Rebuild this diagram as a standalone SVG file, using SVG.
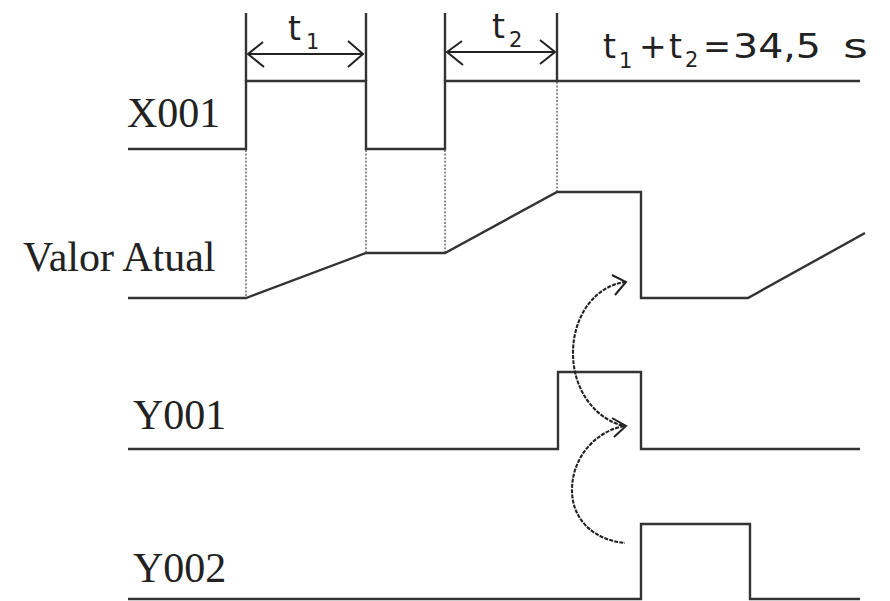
<svg xmlns="http://www.w3.org/2000/svg" width="890" height="601" viewBox="0 0 890 601">
<style>
.sig{fill:none;stroke:#333;stroke-width:2.4;stroke-linejoin:miter}
.dot{fill:none;stroke:#444;stroke-width:1.2;stroke-dasharray:2,1.6}
.arr{fill:none;stroke:#222;stroke-width:2}
.cur{fill:none;stroke:#222;stroke-width:2.1;stroke-dasharray:4,1.2}
.lbl{font-family:"Liberation Serif","Times New Roman",serif;font-size:42px;fill:#222}
.eq{font-family:"DejaVu Sans",Verdana,sans-serif;font-size:33px;fill:#222}
.sub{font-family:"DejaVu Sans",Verdana,sans-serif;font-size:21px;fill:#222}
</style>
<rect width="890" height="601" fill="#fff"/>
<g id="labels">
<text class="lbl" x="127" y="127">X001</text>
<text class="lbl" x="23" y="271">Valor Atual</text>
<text class="lbl" x="133" y="429">Y001</text>
<text class="lbl" x="133" y="582">Y002</text>
</g>
<g id="X001">
<path class="sig" d="M128,149 H246 V81 H366 V149 H445 V81 H860"/>
<path class="sig" d="M246,81 V13 M366,81 V13 M445,81 V13 M557,81 V13"/>
</g>
<g id="ValorAtual">
<path class="sig" d="M128,298 H246 L366,253 H445 L557,192 H641 V298 H748 L865,233"/>
</g>
<g id="Y001">
<path class="sig" d="M128,449 H558 V372 H641 V449 H860"/>
</g>
<g id="Y002">
<path class="sig" d="M128,599 H641 V524 H750 V599 H860"/>
</g>
<g id="connectors">
<path class="dot" d="M246,150 V298 M366,150 V253 M445,150 V253 M557,82 V192"/>
<path class="arr" d="M248,54 H363 M263,42 L248,54 L264,67 M348,41 L363,54 L348,67"/>
<path class="arr" d="M447,52 H555 M462,41 L447,52 L463,65 M540,40 L555,52 L540,64"/>
<path class="cur" d="M626,282 C596,285 573,315 573,353 C573,393 598,420 624,426"/>
<path class="cur" d="M624,426 C597,431 572,456 572,490 C572,520 594,540 625,543"/>
<path class="arr" d="M612,275 L626,282 L615,295"/>
<path class="arr" d="M612,418 L626,426 L614,437"/>
</g>
<g id="times">
<text class="eq" x="288" y="40">t</text><text class="sub" x="306" y="49">1</text>
<text class="eq" x="492" y="38">t</text><text class="sub" x="509" y="47">2</text>
<text class="eq" x="603" y="58">t</text>
<text class="sub" x="619" y="68">1</text>
<text class="eq" x="639" y="58">+</text>
<text class="eq" x="669" y="58">t</text>
<text class="sub" x="685" y="67">2</text>
<text class="eq" x="703" y="58" textLength="28" lengthAdjust="spacingAndGlyphs">=</text>
<text class="eq" x="733" y="58" textLength="88" lengthAdjust="spacingAndGlyphs">34,5</text>
<text class="eq" x="843" y="58" textLength="25" lengthAdjust="spacingAndGlyphs">s</text>
</g>
</svg>
